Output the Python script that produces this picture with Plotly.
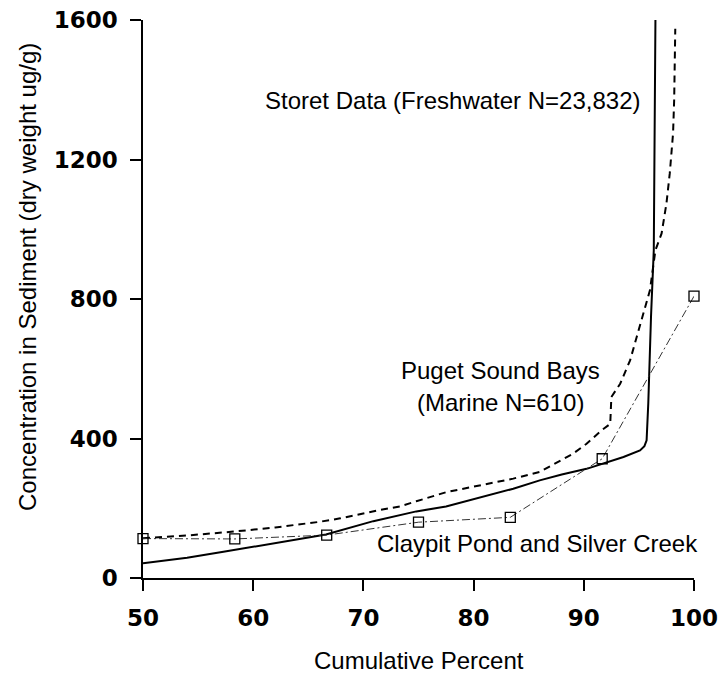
import plotly.graph_objects as go

# Storet Data (Freshwater N=23,832) - solid line
storet_x = [50, 54, 57.3, 61.8, 66.6, 70.9, 73.3, 74.8, 77.5, 80, 83.6, 86, 88, 90.25,
            91.7, 93.6, 95.1, 95.5, 95.7, 95.85, 96.1, 96.35, 96.5]
storet_y = [42, 58, 75, 99, 125, 163, 181, 191, 205, 225, 256, 280, 297, 313,
            327, 347, 366, 378, 395, 500, 750, 940, 1600]

# Puget Sound Bays (Marine N=610) - dashed line
puget_x = [50, 54, 58.2, 62, 66.0, 67.9, 71.5, 73.3, 74.8, 77.5, 80, 83.6, 86, 89.0,
           90.25, 91.6, 92.4, 92.5, 93.3, 94.2, 94.8, 95.4, 96.0, 96.5, 97.06, 97.5,
           97.8, 98.1, 98.2, 98.3]
puget_y = [114, 122, 133, 145, 161, 171, 195, 205, 220, 246, 262, 285, 304, 356,
           385, 423, 442, 519, 557, 624, 691, 758, 825, 940, 988, 1074,
           1160, 1275, 1370, 1575]

# Claypit Pond and Silver Creek - squares
claypit_x = [50, 58.33, 66.67, 75, 83.33, 91.67, 100]
claypit_y = [113, 112, 123, 160, 174, 342, 808]

x_ticks = [50, 60, 70, 80, 90, 100]
y_ticks = [0, 400, 800, 1200, 1600]

ann_font = dict(family="Liberation Sans, Arial, sans-serif", size=24, color="black")
tick_font = dict(family="DejaVu Sans, sans-serif", size=23, color="black", weight="bold")

fig = go.Figure()
fig.add_trace(go.Scatter(x=storet_x, y=storet_y, mode="lines",
                         line=dict(color="black", width=2), showlegend=False))
fig.add_trace(go.Scatter(x=puget_x, y=puget_y, mode="lines",
                         line=dict(color="black", width=2, dash="7px,5px"), showlegend=False))
fig.add_trace(go.Scatter(x=claypit_x, y=claypit_y, mode="lines+markers",
                         line=dict(color="#333333", width=1, dash="8px,3px,2px,3px"),
                         marker=dict(symbol="square-open", size=10, color="black",
                                     line=dict(width=1.3, color="black")),
                         cliponaxis=False, showlegend=False))

fig.update_xaxes(range=[50, 100], tickvals=x_ticks, ticks="outside", ticklen=11,
                 tickwidth=1.5, tickcolor="black", showline=True, linecolor="black",
                 linewidth=1.5, showgrid=False, zeroline=False, tickfont=tick_font,
                 ticklabelstandoff=8, automargin=False)
fig.update_yaxes(range=[0, 1600], tickvals=y_ticks, ticks="outside", ticklen=11,
                 tickwidth=1.5, tickcolor="black", showline=True, linecolor="black",
                 linewidth=1.5, showgrid=False, zeroline=False, tickfont=tick_font,
                 ticklabelstandoff=8, automargin=False)

anns = [
    dict(x=60.87, y=1368, text="Storet Data (Freshwater N=23,832)", xanchor="left"),
    dict(x=82.48, y=596, text="Puget Sound Bays", xanchor="center"),
    dict(x=82.48, y=502, text="(Marine N=610)", xanchor="center"),
    dict(x=71.04, y=100, text="Claypit Pond and Silver Creek", xanchor="left"),
]
for a in anns:
    fig.add_annotation(x=a["x"], y=a["y"], xref="x", yref="y", text=a["text"],
                       xanchor=a["xanchor"], yanchor="middle", showarrow=False,
                       font=ann_font)

fig.add_annotation(x=0.5, y=-0.147, xref="paper", yref="paper",
                   text="Cumulative Percent", showarrow=False,
                   xanchor="center", yanchor="middle", font=ann_font)
fig.add_annotation(x=-0.211, y=0.539, xref="paper", yref="paper",
                   text="Concentration in Sediment (dry weight ug/g)", textangle=-90,
                   showarrow=False, xanchor="center", yanchor="middle", font=ann_font)

fig.update_layout(width=722, height=675, autosize=False,
                  margin=dict(l=143, r=28, t=20, b=97, autoexpand=False),
                  plot_bgcolor="white", paper_bgcolor="white")

fig.write_html("out.html", config={"displayModeBar": False},
               post_script="document.body.style.margin='0px';"
                           "document.body.style.overflow='hidden';")
